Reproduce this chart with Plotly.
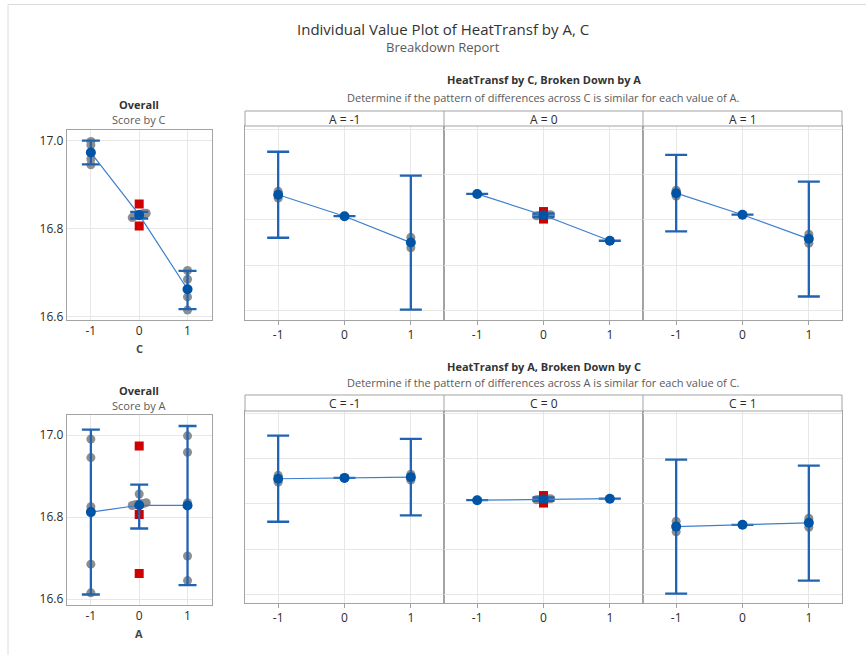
import numpy as np
import plotly.graph_objects as go

W, H = 866, 655          # reference picture size (coordinates below are in this frame)
FIG_H = 660              # rendered height (the page capture is squeezed back to 655)
FONT = "Segoe UI, Open Sans, Noto Sans, sans-serif"

# ---------------- data ----------------
levels = [-1, 0, 1]
level_labels = ["-1", "0", "1"]

obs_A = [-1, -1, -1, -1, -1,
         0, 0, 0, 0, 0, 0, 0, 0, 0, 0,
         1, 1, 1, 1, 1]
obs_C = [-1, -1, 0, 1, 1,
         -1, 0, 0, 0, 0, 0, 0, 0, 0, 1,
         -1, -1, 0, 1, 1]
heat = [16.990, 16.945, 16.825, 16.685, 16.615,
        16.973, 16.806, 16.856, 16.828, 16.830, 16.831, 16.832, 16.833, 16.835, 16.662,
        16.998, 16.958, 16.835, 16.705, 16.645]
# points flagged as unusual (red squares)
unusual_by_A = [0, 0, 0, 0, 0,
                1, 1, 0, 0, 0, 0, 0, 0, 0, 1,
                0, 0, 0, 0, 0]
unusual_by_C = [0, 0, 0, 0, 0,
                0, 1, 1, 0, 0, 0, 0, 0, 0, 0,
                0, 0, 0, 0, 0]

# 95% confidence intervals
ci_C_lo = [16.946, 16.823, 16.617]
ci_C_hi = [17.000, 16.838, 16.704]
ci_A_lo = [16.611, 16.772, 16.634]
ci_A_hi = [17.013, 16.879, 17.022]
# rows: A = -1, 0, 1 ; columns: C = -1, 0, 1
ci_cell_lo = [[16.682, 16.825, 16.205],
              [16.973, 16.820, 16.662],
              [16.724, 16.835, 16.292]]
ci_cell_hi = [[17.253, 16.825, 17.095],
              [16.973, 16.843, 16.662],
              [17.232, 16.835, 17.055]]

left_tickvals = [16.6, 16.8, 17.0]
left_ticktext = ["16.6", "16.8", "17.0"]
right_gridvals = [16.2, 16.5, 16.8, 17.1, 17.4]

# ---------------- styling ----------------
GRAY = "#8e8e8e"
RED = "#d10000"
MEAN = "#0054a6"
BAR = "#2063b3"
LINE = "#3d7fce"
FRAME = "#a3a3a3"
GRID = "#e7e7e7"
TXT = "#2b2b2b"
SUB = "#5a5a5a"

A = np.array(obs_A)
C = np.array(obs_C)
Y = np.array(heat)
uA = np.array(unusual_by_A, dtype=bool)
uC = np.array(unusual_by_C, dtype=bool)


def fx(p):
    return p / W


def fy(p):
    return 1 - p / H


def cluster_offsets_px(vals, tol):
    """Spread tied values horizontally (deterministic), in pixels."""
    n = len(vals)
    offs = np.zeros(n)
    if n == 0:
        return offs
    order = np.argsort(vals, kind="stable")
    clusters, cur = [], [order[0]]
    for i in order[1:]:
        if vals[i] - vals[cur[-1]] < tol:
            cur.append(i)
        else:
            clusters.append(cur)
            cur = [i]
    clusters.append(cur)
    for cl in clusters:
        k = len(cl)
        if k > 1:
            step = min(3.5, 14.0 / (k - 1))
            for j, idx in enumerate(cl):
                offs[idx] = (j - (k - 1) / 2) * step
    return offs


fig = go.Figure()
layout_axes = {}


def ax_names(n):
    return ("x" if n == 1 else f"x{n}", "y" if n == 1 else f"y{n}",
            "xaxis" if n == 1 else f"xaxis{n}", "yaxis" if n == 1 else f"yaxis{n}")


def setup_axes(n, x0, x1, y0, y1, yrange, right):
    xr, yr, xk, yk = ax_names(n)
    layout_axes[xk] = dict(
        domain=[fx(x0), fx(x1)], range=[-1.5, 1.5], anchor=yr,
        tickvals=levels, ticktext=level_labels, showgrid=True, gridcolor=GRID,
        zeroline=False, showline=True, mirror=True, linecolor=FRAME, linewidth=1,
        ticks="outside" if right else "", ticklen=4, tickcolor=FRAME,
        tickfont=dict(size=12, color=TXT, family=FONT), fixedrange=True)
    if right:
        layout_axes[yk] = dict(
            domain=[fy(y1), fy(y0)], range=yrange, anchor=xr,
            tickvals=right_gridvals, showticklabels=False, showgrid=True, gridcolor=GRID,
            zeroline=False, showline=True, mirror=True, linecolor=FRAME, linewidth=1,
            ticks="", fixedrange=True)
    else:
        layout_axes[yk] = dict(
            domain=[fy(y1), fy(y0)], range=yrange, anchor=xr,
            tickvals=left_tickvals, ticktext=left_ticktext, showgrid=True, gridcolor=GRID,
            zeroline=False, showline=True, mirror=True, linecolor=FRAME, linewidth=1,
            ticks="", tickfont=dict(size=12, color=TXT, family=FONT), fixedrange=True)


def draw_panel(n, groups, unusual, lo, hi, pxu_x, pxu_y, cap):
    xr, yr, _, _ = ax_names(n)
    gx, gy, rx, ry, means = [], [], [], [], []
    for lev, idx in zip(levels, groups):
        vals = Y[idx]
        flags = unusual[idx]
        offs = cluster_offsets_px(vals, 2.6 / pxu_y)
        xs = lev + offs / pxu_x
        for v, xv, f in zip(vals, xs, flags):
            if f:
                rx.append(xv)
                ry.append(v)
            else:
                gx.append(xv)
                gy.append(v)
        means.append(vals.mean())
    means = np.array(means)
    fig.add_trace(go.Scatter(x=gx, y=gy, mode="markers", xaxis=xr, yaxis=yr,
                             marker=dict(color=GRAY, size=9, line=dict(width=0)),
                             hoverinfo="skip"))
    if rx:
        fig.add_trace(go.Scatter(x=rx, y=ry, mode="markers", xaxis=xr, yaxis=yr,
                                 marker=dict(color=RED, size=9, symbol="square",
                                             line=dict(width=0)),
                                 hoverinfo="skip"))
    fig.add_trace(go.Scatter(
        x=levels, y=means, mode="markers", xaxis=xr, yaxis=yr,
        marker=dict(color=MEAN, size=1, opacity=0),
        error_y=dict(type="data", symmetric=False,
                     array=np.array(hi) - means, arrayminus=means - np.array(lo),
                     color=BAR, thickness=2.3, width=cap),
        hoverinfo="skip"))
    fig.add_trace(go.Scatter(x=levels, y=means, mode="lines+markers", xaxis=xr, yaxis=yr,
                             line=dict(color=LINE, width=1.2),
                             marker=dict(color=MEAN, size=10, line=dict(width=0)),
                             hoverinfo="skip"))


# ---------------- panels ----------------
LX0, LX1 = 66.7, 211.7
RX = [(245, 444), (444, 643), (643, 842)]
top_right_range = [16.136, 17.424]
bot_right_range = [16.143, 17.417]

# Overall by C
setup_axes(1, LX0, LX1, 130, 320, [16.5925, 17.024], False)
draw_panel(1, [np.where(C == lev)[0] for lev in levels], uC, ci_C_lo, ci_C_hi,
           145 / 3.0, 190 / (17.024 - 16.5925), 9)

# C broken down by A
for k, a in enumerate(levels):
    n = 2 + k
    setup_axes(n, RX[k][0], RX[k][1], 126, 320, top_right_range, True)
    draw_panel(n, [np.where((A == a) & (C == lev))[0] for lev in levels], uC,
               ci_cell_lo[k], ci_cell_hi[k],
               199 / 3.0, 194 / (top_right_range[1] - top_right_range[0]), 11)

# Overall by A
setup_axes(5, LX0, LX1, 415, 605, [16.5854, 17.0488], False)
draw_panel(5, [np.where(A == lev)[0] for lev in levels], uA, ci_A_lo, ci_A_hi,
           145 / 3.0, 190 / (17.0488 - 16.5854), 9)

# A broken down by C
for k, c in enumerate(levels):
    n = 6 + k
    setup_axes(n, RX[k][0], RX[k][1], 411, 603, bot_right_range, True)
    draw_panel(n, [np.where((A == lev) & (C == c))[0] for lev in levels], uC,
               [ci_cell_lo[i][k] for i in range(3)], [ci_cell_hi[i][k] for i in range(3)],
               199 / 3.0, 192 / (bot_right_range[1] - bot_right_range[0]), 11)

# ---------------- shapes ----------------
shapes = []
shapes.append(dict(type="rect", xref="paper", yref="paper", x0=fx(8), x1=fx(900),
                   y0=fy(4.5), y1=fy(700), line=dict(color="#dcdcdc", width=1),
                   fillcolor="rgba(0,0,0,0)", layer="below"))
for (sy0, sy1) in [(111, 126), (395, 411)]:
    shapes.append(dict(type="rect", xref="paper", yref="paper", x0=fx(245), x1=fx(842),
                       y0=fy(sy1), y1=fy(sy0), line=dict(color=FRAME, width=1),
                       fillcolor="white"))
    for xd in (444, 643):
        shapes.append(dict(type="line", xref="paper", yref="paper", x0=fx(xd), x1=fx(xd),
                           y0=fy(sy1), y1=fy(sy0), line=dict(color=FRAME, width=1)))

# ---------------- text ----------------
ann = []


def text(x, y, s, size, color=TXT):
    ann.append(dict(x=fx(x), y=fy(y), xref="paper", yref="paper", text=s, showarrow=False,
                    xanchor="center", yanchor="middle",
                    font=dict(size=size, color=color, family=FONT)))


text(443, 29, "Individual Value Plot of HeatTransf by A, C", 15, "#333333")
text(443, 47, "Breakdown Report", 13, SUB)
text(543.5, 80, "<b>HeatTransf by C, Broken Down by A</b>", 11, "#333333")
text(543.5, 97, "Determine if the pattern of differences across C is similar for each value of A.",
     11, SUB)
for k, a in enumerate(levels):
    text((RX[k][0] + RX[k][1]) / 2, 119, f"A = {a}", 12, TXT)
text(139, 105, "<b>Overall</b>", 11, "#333333")
text(139, 120, "Score by C", 11, SUB)
text(139, 348, "<b>C</b>", 11, "#444444")
text(543.5, 366, "<b>HeatTransf by A, Broken Down by C</b>", 11, "#333333")
text(543.5, 382, "Determine if the pattern of differences across A is similar for each value of C.",
     11, SUB)
for k, c in enumerate(levels):
    text((RX[k][0] + RX[k][1]) / 2, 403, f"C = {c}", 12, TXT)
text(139, 390, "<b>Overall</b>", 11, "#333333")
text(139, 405, "Score by A", 11, SUB)
text(139, 633, "<b>A</b>", 11, "#444444")

fig.update_layout(
    width=W, height=FIG_H, margin=dict(l=0, r=0, t=0, b=0),
    paper_bgcolor="white", plot_bgcolor="white", showlegend=False, hovermode=False,
    font=dict(family=FONT, color=TXT), shapes=shapes, annotations=ann, **layout_axes)

post = (
    "document.documentElement.style.margin='0px';"
    "document.body.style.margin='0px';"
)
fig.write_html("out.html",
               config={"displayModeBar": False, "responsive": False},
               post_script=post)
